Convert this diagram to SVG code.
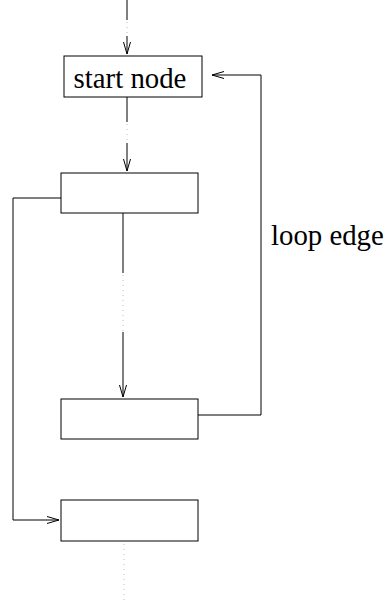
<svg xmlns="http://www.w3.org/2000/svg" width="385" height="605" viewBox="0 0 385 605">
<defs>
<marker id="arr" viewBox="0 0 12 10" refX="12" refY="5" markerWidth="12" markerHeight="10" markerUnits="userSpaceOnUse" orient="auto">
<path d="M0,1.5 L12,5 L0,8.5" fill="none" stroke="#000" stroke-width="1"/>
</marker>
<style>
.box{fill:#fff;stroke:#000;stroke-width:1}
.ln{fill:none;stroke:#000;stroke-width:1}
.dot{fill:none;stroke:#bbb;stroke-width:1;stroke-dasharray:1 4}
.lbl{font-family:"Liberation Serif","Times New Roman",serif;font-size:28.8px;fill:#000}
</style>
</defs>
<g id="connectors">
<path class="ln" d="M127,0 V20"/>
<path class="dot" d="M127,22 V36"/>
<path class="ln" d="M127,36 V54" marker-end="url(#arr)"/>
<path class="ln" d="M127,97 V122"/>
<path class="dot" d="M127,124 V143"/>
<path class="ln" d="M127,143 V171" marker-end="url(#arr)"/>
<path class="ln" d="M123,213 V273"/>
<path class="dot" d="M123,275 V332"/>
<path class="ln" d="M123,332 V397" marker-end="url(#arr)"/>
<path class="ln" d="M198,415 H261 V75 H212" marker-end="url(#arr)"/>
<path class="ln" d="M61,198 H13 V520 H59" marker-end="url(#arr)"/>
<path class="dot" d="M124,544 V600"/>
<text class="lbl" x="271" y="245">loop edge</text>
</g>
<g id="start">
<rect class="box" x="64" y="56" width="138" height="41"/>
<text class="lbl" x="130" y="88" text-anchor="middle">start node</text>
</g>
<g id="n2"><rect class="box" x="61" y="173" width="137" height="40"/></g>
<g id="n3"><rect class="box" x="61" y="399" width="137" height="40"/></g>
<g id="n4"><rect class="box" x="61" y="500" width="137" height="41"/></g>
</svg>
